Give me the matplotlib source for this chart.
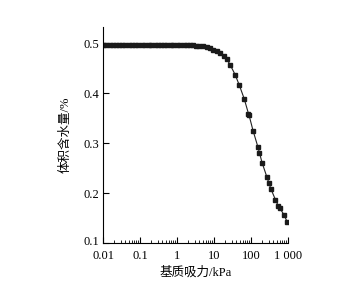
import matplotlib
matplotlib.use("Agg")
import matplotlib.pyplot as plt
from matplotlib.ticker import FixedLocator, LogLocator, NullFormatter
from matplotlib.transforms import ScaledTranslation

# matric suction (kPa) and volumetric water content
suction = [0.01, 0.012, 0.015, 0.018, 0.022, 0.027, 0.033, 0.04, 0.05, 0.06,
           0.075, 0.09, 0.11, 0.14, 0.17, 0.2, 0.25, 0.3, 0.37, 0.45,
           0.55, 0.67, 0.8, 1.0, 1.2, 1.5, 1.8, 2.2, 2.7, 3.3,
           4.0, 5.0, 6.3, 8.0, 9.6, 12.0, 14.5, 18.0, 22.0, 27.0,
           37.0, 48.0, 65.0, 85.0, 88.0, 113.0, 152.0, 168.0, 198.0, 265.0,
           301.0, 340.0, 454.0, 547.0, 608.0, 780.0, 950.0]
theta = [0.497, 0.497, 0.497, 0.497, 0.497, 0.497, 0.497, 0.497, 0.497, 0.497,
         0.497, 0.497, 0.497, 0.497, 0.497, 0.497, 0.497, 0.497, 0.497, 0.497,
         0.497, 0.497, 0.497, 0.497, 0.497, 0.497, 0.496, 0.496, 0.496, 0.495,
         0.495, 0.494, 0.492, 0.490, 0.487, 0.484, 0.480, 0.474, 0.468, 0.457,
         0.437, 0.416, 0.389, 0.359, 0.356, 0.325, 0.293, 0.281, 0.261, 0.233,
         0.221, 0.209, 0.187, 0.174, 0.169, 0.156, 0.142]

xticks = [0.01, 0.1, 1, 10, 100, 1000]
xlabels = ["0.01", "0.1", "1", "10", "100", "1 000"]
yticks = [0.1, 0.2, 0.3, 0.4, 0.5]
ylabels = ["0.1", "0.2", "0.3", "0.4", "0.5"]

plt.rcParams['font.family'] = ['Liberation Serif', 'Noto Sans CJK SC']

fig = plt.figure(figsize=(3.53, 2.91), dpi=100)
ax = fig.add_axes([0.292, 0.165, 0.524, 0.742])

ax.plot(suction, theta, color="#222222", lw=0.8, marker="s", ms=3.3,
        mfc="#1a1a1a", mec="#1a1a1a")

ax.set_xscale("log")
ax.set_xlim(0.01, 1000)
ax.set_ylim(0.1, 0.532)
ax.xaxis.set_major_locator(FixedLocator(xticks))
ax.set_xticklabels(xlabels)
ax.xaxis.set_minor_locator(LogLocator(base=10, subs=range(2, 10), numticks=20))
ax.xaxis.set_minor_formatter(NullFormatter())
ax.set_yticks(yticks)
ax.set_yticklabels(ylabels)

ax.spines["top"].set_visible(False)
ax.spines["right"].set_visible(False)
for s in ["left", "bottom"]:
    ax.spines[s].set_linewidth(0.8)
ax.tick_params(direction="in", which="major", length=4, width=0.8,
               labelsize=9)
ax.tick_params(axis="y", pad=3)
ax.tick_params(axis="x", pad=5)
ax.tick_params(direction="in", which="minor", length=2, width=0.6)

# lowest y label sits a little above the axis line, as in the source
lab = ax.get_yticklabels()[0]
lab.set_transform(lab.get_transform() + ScaledTranslation(0, 2 / 72, fig.dpi_scale_trans))

ax.set_xlabel("基质吸力/kPa", fontsize=9, labelpad=3)
ax.set_ylabel("体积含水量/%", fontsize=9, labelpad=8)

fig.savefig("out.png", dpi=100)
